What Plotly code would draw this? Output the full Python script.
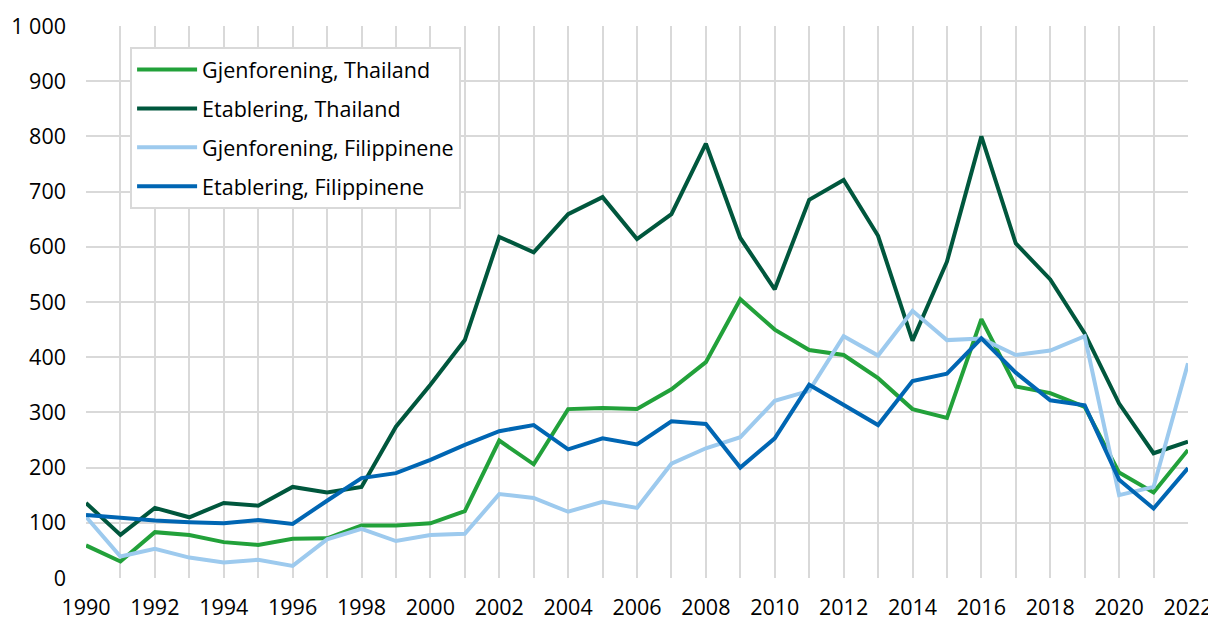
import plotly.graph_objects as go

years = list(range(1990, 2023))

gjen_thailand = [59, 30, 83, 78, 65, 60, 71, 72, 95, 95, 99, 121, 249, 206, 306, 308, 306,
                 342, 391, 505, 450, 413, 404, 362, 306, 290, 469, 347, 335, 310, 191, 155, 232]
etab_thailand = [136, 78, 127, 110, 136, 131, 165, 155, 165, 274, 350, 431, 618, 590, 659, 690, 614,
                 659, 787, 616, 523, 685, 721, 620, 430, 573, 800, 606, 541, 443, 316, 226, 247]
gjen_filippinene = [111, 39, 53, 37, 28, 33, 22, 70, 89, 67, 78, 80, 152, 145, 120, 138, 127,
                    207, 235, 255, 321, 339, 438, 403, 484, 431, 434, 404, 412, 438, 150, 165, 389]
etab_filippinene = [114, 109, 104, 101, 99, 105, 98, 140, 181, 190, 214, 241, 266, 277, 233, 253, 242,
                    284, 279, 200, 253, 350, 313, 277, 357, 370, 434, 372, 322, 313, 178, 126, 199]

series = [
    ('Gjenforening, Thailand', gjen_thailand, '#22a13a'),
    ('Etablering, Thailand', etab_thailand, '#00573d'),
    ('Gjenforening, Filippinene', gjen_filippinene, '#9dcaee'),
    ('Etablering, Filippinene', etab_filippinene, '#0066b3'),
]

fig = go.Figure()
for i, (name, vals, col) in enumerate(series):
    fig.add_trace(go.Scatter(x=years, y=vals, name=name, mode='lines', legendgroup=str(i),
                             line=dict(color=col, width=4)))

grid = '#d9d9d9'
# page body has an 8px margin, so the figure is a bit smaller than the window
fig.update_layout(
    width=1208, height=612,
    margin=dict(l=78, r=28, t=18, b=42),
    plot_bgcolor='#FFF', paper_bgcolor='#FFF',
    font=dict(family='Open Sans', size=21.5, color='#000'),
    separators=', ',
    legend=dict(x=0.04, y=0.962, xanchor='left', yanchor='top',
                bgcolor='#FFF', bordercolor=grid, borderwidth=2,
                traceorder='grouped', tracegroupgap=8, itemwidth=60,
                font=dict(size=21.5)),
)
fig.update_xaxes(range=[1990, 2022], tickvals=list(range(1990, 2023, 2)),
                 showgrid=True, gridcolor=grid, gridwidth=2,
                 minor=dict(dtick=1, showgrid=True, gridcolor=grid, gridwidth=2),
                 zeroline=False, showline=False, ticks='', automargin=False,
                 ticklabelstandoff=14)
fig.update_yaxes(range=[0, 1000], dtick=100, tickformat=',d',
                 showgrid=True, gridcolor=grid, gridwidth=2,
                 zeroline=False, showline=False, ticks='', automargin=False,
                 ticklabelstandoff=19)

fig.write_html("out.html")
